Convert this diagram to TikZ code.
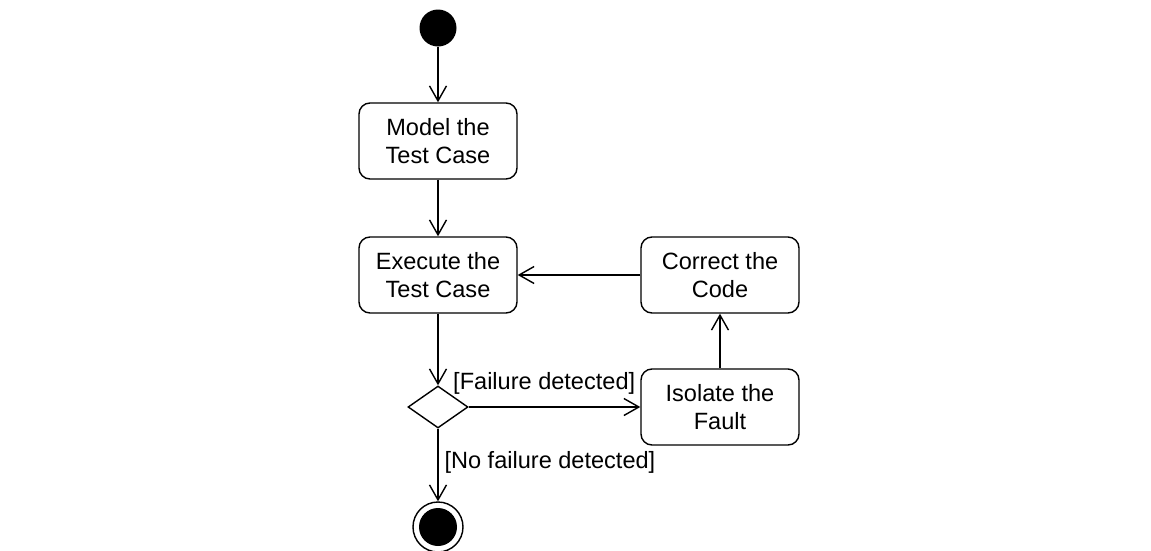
\documentclass[tikz,border=0pt]{standalone}
\usepackage{fontspec}
\setmainfont{Liberation Sans}
\usetikzlibrary{positioning,shapes.geometric,arrows.meta}

\begin{document}
\begin{tikzpicture}[->,>={Straight Barb[length=0.3cm,width=0.34cm]},line width=0.8pt,auto,node distance=2.68cm,
    action node/.style={rectangle,rounded corners=0.22cm,draw,minimum width=3.16cm,minimum height=1.52cm,align=center,font=\fontsize{13.4pt}{16pt}\selectfont},
    guard/.style={font=\fontsize{13.4pt}{16pt}\selectfont}]

            \useasboundingbox (0,0) rectangle (23.02,-11.02);

            \node[circle, fill, minimum size=0.74cm, inner sep=0pt] (1) at (8.76,-0.56) {};
            \node[action node] (2) [node distance=2.26cm, below of = 1]{Model the\\Test Case};
            \node[action node] (3) [below of = 2]{Execute the\\Test Case};
            \node[diamond, draw, inner sep=0pt, minimum width=1.2cm, minimum height=0.84cm] (4) [node distance=2.64cm, below of = 3]{};
            \node[circle, draw, minimum size=1cm, inner sep=0pt,
                path picture={\fill (path picture bounding box.center) circle (0.38cm);}] (5) [node distance=2.4cm, below of = 4]{};
            \node[action node] (6) [node distance=5.64cm, right of = 4]{Isolate the\\Fault};
            \node[action node] (7) [node distance=5.64cm, right of = 3]{Correct the\\Code};

            % \path[every node/.style={font=\sffamily\small}]

            \draw (1) to (2);
            \draw (2) to (3);
            \draw (3) to (4);
            \draw (4) to node[guard, above, pos=0.44, yshift=0.12cm]{[Failure detected]} (6);
            \draw (4) to node[guard, right, pos=0.46]{[No failure detected]} (5);
            \draw (6) to (7);
            \draw (7) to (3);

            ;
        \end{tikzpicture}
\end{document}
